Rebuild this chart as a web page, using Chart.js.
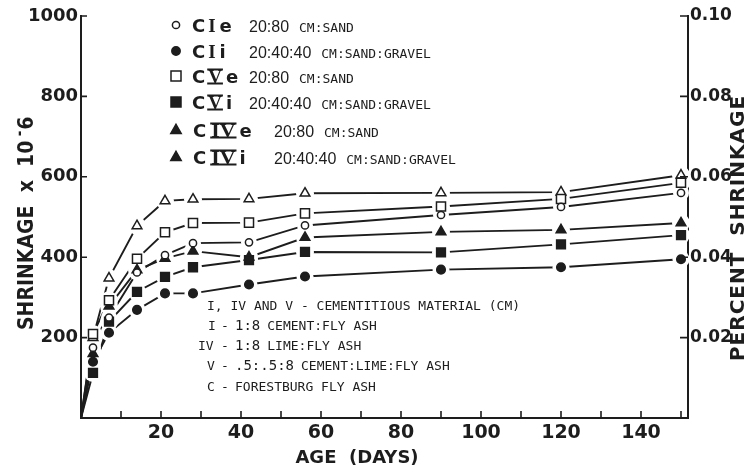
<!DOCTYPE html>
<html>
<head>
<meta charset="utf-8">
<script src="https://cdn.jsdelivr.net/npm/chart.js@4.4.1/dist/chart.umd.min.js"></script>
<style>
  html, body { margin: 0; padding: 0; background: #ffffff; }
  canvas { display: block; }
</style>
</head>
<body>
<canvas id="chart" width="746" height="469"></canvas>
<script>
// Drying shrinkage (x 10^-6) against age in days
const ageDays = [0, 3, 7, 14, 21, 28, 42, 56, 90, 120, 150];
const cIe  = [0, 175, 250, 362, 405, 435, 437, 479, 505, 525, 560];
const cIi  = [0, 140, 212, 269, 310, 310, 332, 352, 369, 375, 395];
const cVe  = [0, 209, 293, 396, 462, 485, 486, 509, 526, 545, 585];
const cVi  = [0, 112, 240, 314, 351, 375, 393, 413, 412, 432, 455];
const cIVe = [0, 200, 348, 478, 540, 544, 545, 559, 560, 562, 604];
const cIVi = [0, 160, 278, 368, 397, 415, 400, 449, 463, 468, 485];

const shrinkTicks  = [200, 400, 600, 800, 1000];
const percentTicks = [0.02, 0.04, 0.06, 0.08, 0.10];
const ageTicks     = [20, 40, 60, 80, 100, 120, 140];

const seriesNames  = ['CIe', 'CIi', 'CVe', 'CVi', 'CIVe', 'CIVi'];
const mixRatios    = ['20:80', '20:40:40', '20:80', '20:40:40', '20:80', '20:40:40'];
const mixMaterials = ['CM:SAND', 'CM:SAND:GRAVEL', 'CM:SAND', 'CM:SAND:GRAVEL', 'CM:SAND', 'CM:SAND:GRAVEL'];

const noteKeys   = ['I, IV AND V', 'I', 'IV', 'V', 'C'];
const noteRatios = ['', '1:8', '1:8', '.5:.5:8', ''];
const noteTexts  = ['CEMENTITIOUS MATERIAL (CM)', 'CEMENT:FLY ASH', 'LIME:FLY ASH', 'CEMENT:LIME:FLY ASH', 'FORESTBURG FLY ASH'];

const seriesValues = [cIe, cIi, cVe, cVi, cIVe, cIVi];

const INK = '#1d1d1d';
const markerLook = [
  { shape: 'circle',   r: 3.6, filled: false, halo: 8 },
  { shape: 'circle',   r: 4.3, filled: true,  halo: 8.5 },
  { shape: 'rect',     r: 6.4, filled: false, halo: 9 },
  { shape: 'rect',     r: 6.2, filled: true,  halo: 9 },
  { shape: 'triangle', r: 5.6, filled: false, halo: 9 },
  { shape: 'triangle', r: 5.6, filled: true,  halo: 9 }
];
const legendFilled = [false, true, false, true, true, true];
const N = seriesValues.length;

const toPoints = vals => ageDays.map((d, i) => ({ x: d, y: vals[i] }));
const skipOrigin = r => c => (c.raw && c.raw.x === 0 ? 0 : r);

const datasets = [];
seriesValues.forEach((vals, i) => {
  datasets.push({
    label: seriesNames[i],
    data: toPoints(vals),
    borderColor: INK, borderWidth: 1.9,
    pointRadius: 0, tension: 0, fill: false, order: 2
  });
});
seriesValues.forEach((vals, i) => {
  const m = markerLook[i];
  datasets.push({
    label: seriesNames[i] + ' marks',
    data: toPoints(vals),
    showLine: false,
    borderWidth: 0, borderColor: 'rgba(0,0,0,0)',
    pointStyle: m.shape, pointRadius: skipOrigin(m.r),
    pointBackgroundColor: m.filled ? INK : '#ffffff',
    pointBorderColor: INK, pointBorderWidth: 1.5,
    order: 1
  });
});

// clears a small white gap in the lines around every marker before the markers are drawn
let gapsCleared = false;
const lineGaps = {
  id: 'lineGaps',
  beforeDatasetsDraw() { gapsCleared = false; },
  beforeDatasetDraw(chart, args) {
    if (gapsCleared || args.index < N) return;
    gapsCleared = true;
    const { ctx } = chart;
    ctx.save();
    ctx.fillStyle = '#ffffff';
    for (let s = 0; s < N; s++) {
      const meta = chart.getDatasetMeta(s + N);
      meta.data.forEach((pt, j) => {
        if (ageDays[j] === 0) return;
        ctx.beginPath();
        ctx.arc(pt.x, pt.y, markerLook[s].halo, 0, Math.PI * 2);
        ctx.fill();
      });
    }
    ctx.restore();
  }
};

function put(ctx, s, x, y, font, align, sx) {
  ctx.save();
  ctx.font = font;
  ctx.fillStyle = INK;
  ctx.textAlign = align || 'left';
  ctx.textBaseline = 'alphabetic';
  ctx.translate(x, y);
  ctx.scale(sx || 1, 1);
  ctx.fillText(s, 0, 0);
  ctx.restore();
}

function markAt(ctx, shape, filled, x, y, r) {
  ctx.save();
  ctx.beginPath();
  if (shape === 'circle') ctx.arc(x, y, r, 0, Math.PI * 2);
  else if (shape === 'rect') ctx.rect(x - r, y - r, 2 * r, 2 * r);
  else { ctx.moveTo(x, y - r * 1.1); ctx.lineTo(x + r, y + r * 0.65); ctx.lineTo(x - r, y + r * 0.65); ctx.closePath(); }
  ctx.fillStyle = filled ? INK : '#ffffff';
  ctx.strokeStyle = INK;
  ctx.lineWidth = 1.5;
  ctx.fill();
  ctx.stroke();
  ctx.restore();
}

const decorations = {
  id: 'decorations',
  afterDraw(chart) {
    const { ctx, chartArea: a, scales } = chart;
    const x = scales.x, y = scales.y, y2 = scales.y2;

    // inward tick marks
    ctx.save();
    ctx.strokeStyle = INK;
    ctx.lineWidth = 1.6;
    ctx.beginPath();
    for (let v = 10; v <= 150; v += 10) {
      const px = x.getPixelForValue(v);
      ctx.moveTo(px, a.bottom); ctx.lineTo(px, a.bottom - 7);
    }
    shrinkTicks.forEach(v => {
      const py = y.getPixelForValue(v);
      ctx.moveTo(a.left, py); ctx.lineTo(a.left + 6, py);
    });
    percentTicks.forEach(v => {
      const py = y2.getPixelForValue(v);
      ctx.moveTo(a.right, py); ctx.lineTo(a.right - 8, py);
    });
    ctx.stroke();
    ctx.restore();

    // axis titles
    put(ctx, 'AGE  (DAYS)', 357, 463, 'bold 18px "DejaVu Sans"', 'center');

    ctx.save();
    ctx.translate(33, 330);
    ctx.rotate(-Math.PI / 2);
    ctx.scale(0.9, 1);
    ctx.font = 'bold 21px "DejaVu Sans"';
    ctx.fillStyle = INK;
    ctx.textBaseline = 'alphabetic';
    let cx = 0;
    ctx.fillText('SHRINKAGE  x  10', cx, 0);
    cx += ctx.measureText('SHRINKAGE  x  10').width + 5;
    ctx.font = 'bold 15px "DejaVu Sans"';
    ctx.fillText('-', cx, -9);
    cx += ctx.measureText('-').width + 1;
    ctx.font = 'bold 21px "DejaVu Sans"';
    ctx.fillText('6', cx, 0);
    ctx.restore();

    ctx.save();
    ctx.translate(744, 228);
    ctx.rotate(-Math.PI / 2);
    ctx.font = 'bold 20px "DejaVu Sans"';
    ctx.fillStyle = INK;
    ctx.textAlign = 'center';
    ctx.letterSpacing = '1px';
    ctx.fillText('PERCENT  SHRINKAGE', 0, 0);
    ctx.restore();

    // key
    const rowY = [25, 51, 76, 102, 130, 157];
    seriesNames.forEach((name, i) => {
      const cyy = rowY[i];
      const base = cyy + 7;
      const m = markerLook[i];
      const mr = m.shape === 'circle' ? (legendFilled[i] ? 4.2 : 3.6) : (m.shape === 'rect' ? 5 : 5.2);
      markAt(ctx, m.shape, legendFilled[i], 176, cyy, mr);

      const lead = name[0];
      const numeral = name.slice(1, -1);
      const tail = name.slice(-1);
      const wide = numeral.length > 1;
      let px = wide ? 193 : 192;
      put(ctx, lead, px, base, 'bold 18px "DejaVu Sans"');
      ctx.font = 'bold 18px "DejaVu Sans"';
      px += ctx.measureText(lead).width + (wide ? 5 : 3);
      ctx.font = 'bold 19px "Liberation Serif"';
      const nw = ctx.measureText(numeral).width * (wide ? 1.15 : 1);
      put(ctx, numeral, px, base, 'bold 19px "Liberation Serif"', 'left', wide ? 1.15 : 1);
      if (numeral !== 'I') {
        ctx.save();
        ctx.strokeStyle = INK; ctx.lineWidth = 2;
        ctx.beginPath();
        ctx.moveTo(px - 1, base - 13.5); ctx.lineTo(px + nw + 1, base - 13.5);
        ctx.moveTo(px - 1, base + 0.5); ctx.lineTo(px + nw + 1, base + 0.5);
        ctx.stroke();
        ctx.restore();
      }
      px += nw + 4;
      put(ctx, tail, px, base, 'bold 18px "DejaVu Sans"');

      const rx = wide ? 274 : 249;
      put(ctx, mixRatios[i], rx, base, '16px "Liberation Sans"');
      ctx.font = '16px "Liberation Sans"';
      const mx = rx + ctx.measureText(mixRatios[i]).width + 10;
      put(ctx, mixMaterials[i], mx, base, '13px "DejaVu Sans Mono"');
    });

    // notes on the cementitious materials
    const noteY = [310, 330, 350, 370, 391];
    const keyX = [207, 208, 198, 207, 207];
    noteKeys.forEach((k, i) => {
      const by = noteY[i];
      if (i === 0) {
        put(ctx, k + ' - ' + noteTexts[i], keyX[i], by, '13px "DejaVu Sans Mono"');
        return;
      }
      put(ctx, k, keyX[i], by, '13px "DejaVu Sans Mono"');
      put(ctx, '-', 221, by, '13px "DejaVu Sans Mono"');
      let tx = 235;
      if (noteRatios[i]) {
        put(ctx, noteRatios[i], 235, by, '14px "DejaVu Sans Mono"');
        ctx.font = '14px "DejaVu Sans Mono"';
        tx = 235 + ctx.measureText(noteRatios[i]).width + 7;
      }
      put(ctx, noteTexts[i], tx, by, '13px "DejaVu Sans Mono"');
    });
  }
};

new Chart(document.getElementById('chart'), {
  type: 'line',
  data: { datasets },
  plugins: [lineGaps, decorations],
  options: {
    responsive: false,
    animation: false,
    devicePixelRatio: 1,
    layout: { padding: { top: 16, left: 0, right: 0, bottom: 0 } },
    plugins: { legend: { display: false }, tooltip: { enabled: false }, title: { display: false } },
    scales: {
      x: {
        type: 'linear', position: 'bottom', min: 0, max: 151.75,
        afterBuildTicks: s => { s.ticks = ageTicks.map(v => ({ value: v })); },
        ticks: { font: { family: 'DejaVu Sans', weight: 'bold', size: 19 }, color: INK, padding: 4, maxRotation: 0, autoSkip: false,
                 callback: v => String(v) },
        grid: { display: false, drawTicks: false },
        border: { display: true, color: INK, width: 2 },
        afterFit: s => { s.height = 51; }
      },
      y: {
        type: 'linear', position: 'left', min: 0, max: 1000,
        afterBuildTicks: s => { s.ticks = shrinkTicks.map(v => ({ value: v })); },
        ticks: { font: { family: 'DejaVu Sans', weight: 'bold', size: 18 }, color: INK, padding: 3,
                 callback: v => String(v) },
        grid: { display: false, drawTicks: false },
        border: { display: true, color: INK, width: 2 },
        afterFit: s => { s.width = 81; }
      },
      y2: {
        type: 'linear', position: 'right', min: 0, max: 0.1,
        afterBuildTicks: s => { s.ticks = percentTicks.map(v => ({ value: v })); },
        ticks: { font: { family: 'DejaVu Sans', weight: 'bold', size: 17 }, color: INK, padding: 2,
                 callback: v => v.toFixed(2) },
        grid: { display: false, drawTicks: false },
        border: { display: true, color: INK, width: 2 },
        afterFit: s => { s.width = 58; }
      }
    }
  }
});
</script>
</body>
</html>
